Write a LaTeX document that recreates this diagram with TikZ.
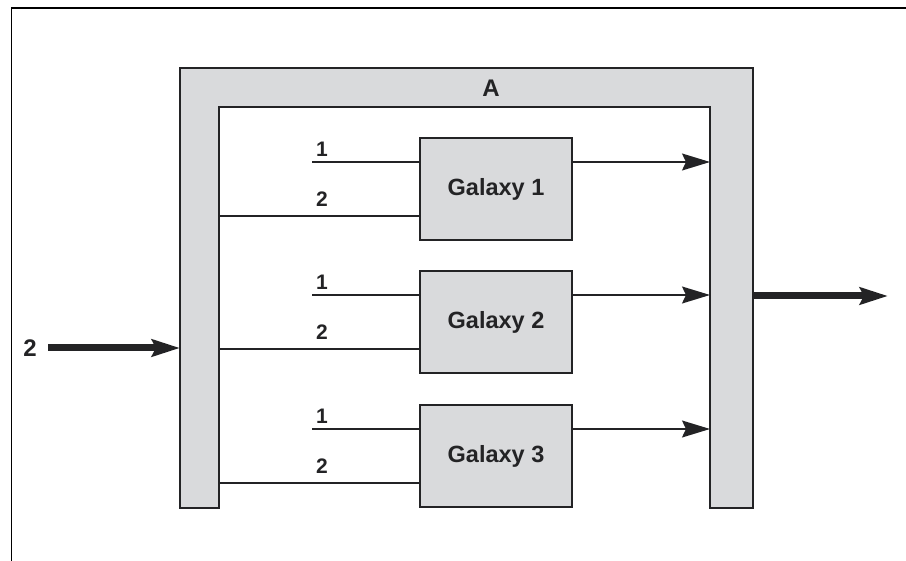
\documentclass[tikz,border=0pt]{standalone}
\usepackage{fontspec}
\setmainfont{Liberation Sans}
\usetikzlibrary{arrows.meta}
\definecolor{panel}{HTML}{D9DADC}
\definecolor{ink}{HTML}{232325}
\begin{document}
\begin{tikzpicture}[x=1pt,y=-1pt,
  frame/.style={line width=1.5pt,draw=black},
  block/.style={draw=ink,line width=1.4pt,fill=panel},
  galbox/.style={block,minimum width=152pt,minimum height=102pt,inner sep=0pt,
    font=\fontsize{23.5}{26}\bfseries,text=ink},
  wire/.style={draw=ink,line width=1.3pt},
  flow/.style={wire,-{Stealth[length=28pt,width=17pt,inset=4pt]}},
  bigflow/.style={draw=ink,line width=7pt,-{Stealth[length=28pt,width=17pt,inset=4pt]}},
  lbl/.style={font=\fontsize{21}{23}\bfseries,text=ink,inner sep=0pt},
  biglbl/.style={font=\fontsize{24}{26}\bfseries,text=ink,inner sep=0pt}]
\useasboundingbox (0,0) rectangle (906,561);

% open frame: top and left edges
\draw[frame] (906,8) -- (11.5,8) -- (11.5,561);

% the A housing
\draw[block] (180,68) -- (753,68) -- (753,508) -- (710,508) -- (710,107)
  -- (219,107) -- (219,508) -- (180,508) -- cycle;
\node[biglbl] (labA) at (491,88) {A};

% anchors on the housing
\coordinate (inL) at (180,348);
\coordinate (outR) at (753,296);

% galaxy blocks with their inputs and outputs
\foreach \i/\y in {1/189,2/322,3/456}{
  \node[galbox] (g\i) at (496,\y) {Galaxy \i};
  \coordinate (a\i) at (312,\y-27);
  \coordinate (b\i) at (219,\y+27);
  \coordinate (c\i) at (710,\y-27);
  \draw[wire] (a\i) -- (a\i -| g\i.west);
  \draw[wire] (b\i) -- (b\i -| g\i.west);
  \draw[flow] (c\i -| g\i.east) -- (c\i);
  \node[lbl] (one\i) at (322,\y-40) {1};
  \node[lbl] (two\i) at (322,\y+10) {2};
}

% main input and output
\coordinate (src) at (48,348);
\coordinate (dst) at (888,296);
\node[biglbl] (inlab) at (30,348) {2};
\draw[bigflow] (src) -- (inL);
\draw[bigflow] (outR) -- (dst);
\end{tikzpicture}
\end{document}
